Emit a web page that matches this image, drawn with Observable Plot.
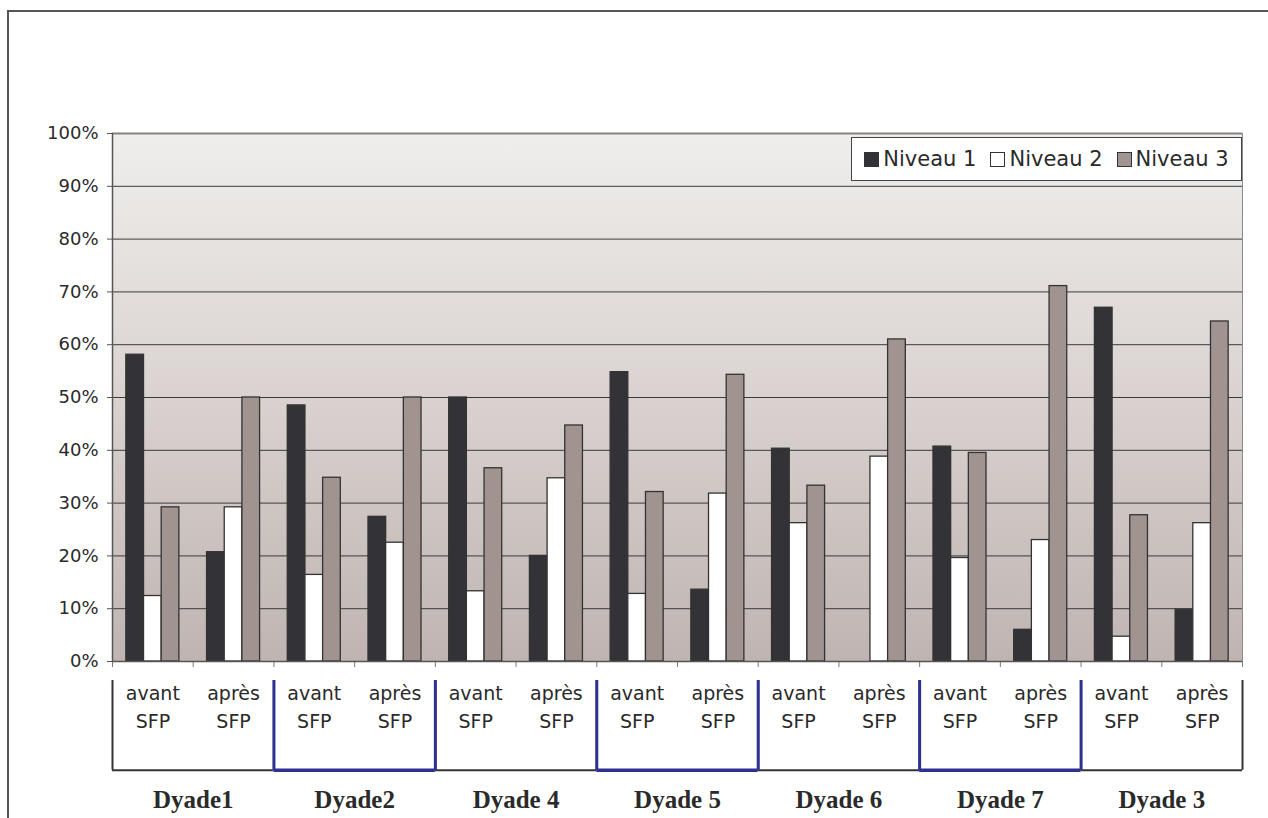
<!DOCTYPE html>
<html><head><meta charset="utf-8">
<script src="https://cdn.jsdelivr.net/npm/d3@7"></script>
<script src="https://cdn.jsdelivr.net/npm/@observablehq/plot@0.6"></script>
<style>
body{margin:0;background:#fff;}
#wrap{position:relative;width:1268px;height:818px;overflow:hidden;}
#border{position:absolute;left:7px;top:10px;width:1300px;height:900px;border-top:2px solid #555;border-left:2px solid #555;pointer-events:none;}
#legend{position:absolute;left:851px;top:137px;width:391px;height:44px;box-sizing:border-box;border:1px solid #444;background:#fff;display:flex;align-items:center;justify-content:center;gap:14px;font:21px "DejaVu Sans";color:#2a2a2a;}
#legend .item{display:flex;align-items:center;white-space:nowrap;}
#legend .sw{display:inline-block;width:15px;height:15px;box-sizing:border-box;border:1px solid #333;margin-right:4px;}
</style></head>
<body><div id="wrap"><div id="chart"></div><div id="legend"></div><div id="border"></div></div>
<script>
// ---- data ----
const dyades = ["Dyade1", "Dyade2", "Dyade 4", "Dyade 5", "Dyade 6", "Dyade 7", "Dyade 3"];
const moments = ["avant\nSFP", "après\nSFP"];
const niveaux = ["Niveau 1", "Niveau 2", "Niveau 3"];
const niveau1 = [58.1, 20.7, 48.5, 27.4, 50.0, 20.0, 54.8, 13.6, 40.3, 0.0, 40.7, 6.0, 67.0, 9.8];
const niveau2 = [12.4, 29.2, 16.4, 22.5, 13.3, 34.7, 12.8, 31.8, 26.2, 38.8, 19.6, 23.0, 4.7, 26.2];
const niveau3 = [29.2, 50.0, 34.8, 50.0, 36.6, 44.7, 32.1, 54.3, 33.3, 61.0, 39.5, 71.1, 27.7, 64.4];
const yTicks = [0, 10, 20, 30, 40, 50, 60, 70, 80, 90, 100];
const colors = ["#333237", "#ffffff", "#a09390"];
const bracketColors = ["#333333", "#2e3192"];

// ---- derived tables ----
const series = [niveau1, niveau2, niveau3];
const nCat = dyades.length * moments.length;
const cats = d3.range(nCat).map(i => ({i, label: moments[i % 2], dyade: Math.floor(i / 2)}));
const rows = [];
cats.forEach(c => niveaux.forEach((n, k) => rows.push({i: c.i, k, niveau: n, value: series[k][c.i]})));
const dy = dyades.map((name, j) => ({j, name, x1: 2 * j, x2: 2 * j + 2, color: bracketColors[j % 2]}));

const BAR = 0.219;          // bar width as a fraction of a category
const B_TOP = -3.6, B_BOT = -20.6; // bracket extent below the axis (in y units)

const chart = Plot.plot({
  width: 1268, height: 818,
  marginLeft: 112, marginRight: 26, marginTop: 133, marginBottom: 157,
  style: {fontFamily: "DejaVu Sans", color: "#2a2a2a", background: "transparent", overflow: "visible"},
  x: {type: "linear", domain: [0, nCat]},
  y: {domain: [0, 100]},
  color: {domain: niveaux, range: colors},
  marks: [
    Plot.frame({fill: "url(#bg)", stroke: null}),
    Plot.ruleY(yTicks.filter(t => t > 0 && t < 100), {stroke: "#3a3a3a", strokeWidth: 1}),
    Plot.ruleY([100], {stroke: "#8a807d", strokeWidth: 2}),
    Plot.ruleX([nCat], {stroke: "#8a8a8a", strokeWidth: 1}),
    Plot.rectY(rows.filter(d => d.value > 0), {
      x1: d => d.i + 0.5 + (d.k - 1.5) * BAR,
      x2: d => d.i + 0.5 + (d.k - 0.5) * BAR,
      y1: 0, y2: "value", fill: "niveau", stroke: "#333", strokeWidth: 1.3
    }),
    Plot.axisY({ticks: yTicks, tickFormat: d => d + "%", tickSize: 5, tickPadding: 9, fontSize: 18, label: null, stroke: "#555"}),
    Plot.axisX({ticks: d3.range(0, nCat + 1), tickFormat: () => "", tickSize: 6, label: null, stroke: "#777"}),
    Plot.ruleX([0], {stroke: "#555", strokeWidth: 1.5}),
    Plot.ruleY([0], {stroke: "#555", strokeWidth: 1.5}),
    Plot.text(cats, {x: d => d.i + 0.5, y: 0, text: "label", dy: 44, lineHeight: 1.47, fontSize: 19, fill: "#2a2a2a"}),
    // brackets: black first, then blue on top
    ...[0, 1].map(p => [
      Plot.ruleX(dy.filter(d => d.j % 2 === p), {x: "x1", y1: B_TOP, y2: B_BOT, stroke: "color", strokeWidth: p ? 3 : 2}),
      Plot.ruleX(dy.filter(d => d.j % 2 === p), {x: "x2", y1: B_TOP, y2: B_BOT, stroke: "color", strokeWidth: p ? 3 : 2}),
      Plot.ruleY(dy.filter(d => d.j % 2 === p), {y: B_BOT, x1: "x1", x2: "x2", stroke: "color", strokeWidth: p ? 3.5 : 2})
    ]).flat(),
    Plot.text(dy, {x: d => d.j * 2 + 1, y: B_BOT, text: "name", dy: 30, fontFamily: "Liberation Serif", fontWeight: "bold", fontSize: 25, fill: "#2a2a2a"})
  ]
});
// gradient for plot background
d3.select(chart).insert("defs", ":first-child").html(
  `<linearGradient id="bg" x1="0" y1="0" x2="0" y2="1">
     <stop offset="0" stop-color="#efeeec"/>
     <stop offset="0.45" stop-color="#dcd5d3"/>
     <stop offset="1" stop-color="#bfb4b1"/>
   </linearGradient>`);
document.getElementById("chart").appendChild(chart);

// legend
const lg = d3.select("#legend");
niveaux.forEach((n, k) => {
  const it = lg.append("div").attr("class", "item");
  it.append("span").attr("class", "sw").style("background", colors[k]);
  it.append("span").text(n);
});
</script>
</body></html>
